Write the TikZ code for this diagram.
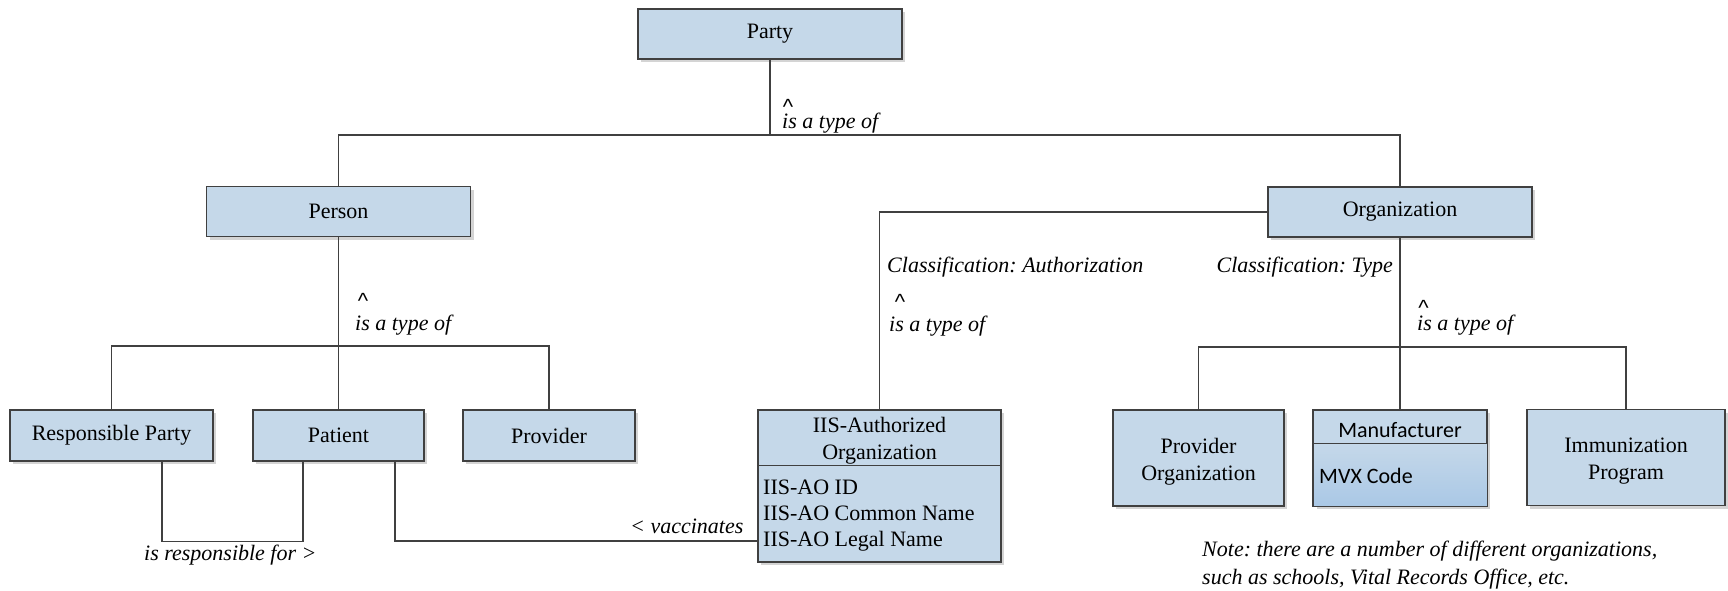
\documentclass[tikz,border=0pt]{standalone}
\usepackage{fontspec}
\setmainfont{Liberation Serif}
\newfontfamily\calfont{Carlito}
\newfontfamily\caretfont{Liberation Sans}
\usetikzlibrary{shadows}
\frenchspacing
\definecolor{boxfill}{RGB}{197,216,233}
\definecolor{mfrdark}{RGB}{170,200,230}
\definecolor{edge}{RGB}{64,64,64}
\definecolor{shadecol}{RGB}{212,212,212}
\tikzset{
  box/.style={draw=edge, line width=1.4pt, fill=boxfill, inner sep=0pt, align=center,
    font=\fontsize{22}{27}\selectfont,
    drop shadow={shadow xshift=3pt, shadow yshift=-3pt, fill=shadecol, opacity=1}},
  conn/.style={draw=edge, line width=1.4pt},
  lbl/.style={font=\fontsize{22}{25}\selectfont\itshape, inner sep=0pt},
  txt/.style={font=\fontsize{22}{27}\selectfont, inner sep=0pt},
  sans/.style={font=\calfont\fontsize{22}{25}\selectfont, inner sep=0pt},
  caret/.style={font=\caretfont\fontsize{22}{25}\selectfont, inner sep=0pt, anchor=base}
}
\begin{document}
\begin{tikzpicture}[x=1pt,y=-1pt]
\useasboundingbox (0,0) rectangle (1728,590);

% main boxes
\node[box, minimum width=264pt, minimum height=50pt] (party) at (770,34) {Party};
\node[box, minimum width=264pt, minimum height=50pt] (person) at (338.5,211.5) {Person};
\node[box, minimum width=264pt, minimum height=50pt] (org) at (1400,212) {Organization};

\node[box, minimum width=203pt, minimum height=51pt] (resp) at (111.5,435.5) {Responsible Party};
\node[box, minimum width=171pt, minimum height=51pt] (patient) at (338.5,435.5) {Patient};
\node[box, minimum width=172pt, minimum height=51pt] (prov) at (549,435.5) {Provider};

% IIS-AO class box
\node[box, minimum width=243pt, minimum height=152pt] (iis) at (879.5,486) {};
\draw[conn] ([yshift=-56pt]iis.north west) -- ([yshift=-56pt]iis.north east);
\node[txt, align=center] (iist) at (879.5,441) {IIS-Authorized\\Organization};
\node[txt, anchor=base west] (iis1) at (763,494) {IIS-AO ID};
\node[txt, anchor=base west] (iis2) at (763,520) {IIS-AO Common Name};
\node[txt, anchor=base west] (iis3) at (763,546) {IIS-AO Legal Name};

% organization children
\node[box, minimum width=171pt, minimum height=96pt] (porg) at (1198.5,458) {};
\node[txt, align=center] (porgt) at (1198.5,462) {Provider\\Organization};
\node[box, minimum width=173pt, minimum height=96pt] (mfr) at (1400,458) {};
\fill[top color=boxfill, bottom color=mfrdark]
  ([xshift=0.7pt,yshift=-34pt]mfr.north west) rectangle ([xshift=-0.7pt,yshift=0.7pt]mfr.south east);
\draw[conn] (mfr.north west) rectangle (mfr.south east);
\draw[conn] ([yshift=-34pt]mfr.north west) -- ([yshift=-34pt]mfr.north east);
\node[sans] (mfrt) at (1400,430) {Manufacturer};
\node[sans, anchor=west] (mvx) at (1319,476) {MVX Code};
\node[box, minimum width=198pt, minimum height=96pt] (imm) at (1626,457.5) {};
\node[txt, align=center] (immt) at (1626,461) {Immunization\\Program};

% connectors
\coordinate (j1) at (770,135);
\draw[conn] (party.south) -- (j1);
\draw[conn] (person.north) |- (j1) -| (org.north);
\coordinate (j2) at (338.5,346);
\draw[conn] (person.south) -- (patient.north);
\draw[conn] (resp.north) |- (j2) -| (prov.north);
\coordinate (j3) at (1400,347);
\draw[conn] (org.south) -- (mfr.north);
\draw[conn] (porg.north) |- (j3) -| (imm.north);
\draw[conn] (iis.north) |- (org.west);
\draw[conn] ([xshift=50.5pt]resp.south) -- ++(0,80) -| ([xshift=-35.5pt]patient.south);
\draw[conn] ([xshift=56.5pt]patient.south) |- ([yshift=-55pt]iis.west);

% labels
\node[caret] (c1) at (788,114) {\textasciicircum};
\node[lbl, anchor=base west] (t1) at (782,128) {is a type of};
\node[caret] (c2) at (363,308) {\textasciicircum};
\node[lbl, anchor=base west] (t2) at (355,330) {is a type of};
\node[lbl, anchor=base west] (cla) at (887,272) {Classification: Authorization};
\node[caret] (c3) at (900,309) {\textasciicircum};
\node[lbl, anchor=base west] (t3) at (889,331) {is a type of};
\node[caret] (c4) at (1423.5,315) {\textasciicircum};
\node[lbl, anchor=base west] (t4) at (1417,330) {is a type of};
\node[lbl, anchor=base east] (clt) at (1393,272) {Classification: Type};
\node[lbl, anchor=base west] (resl) at (144,560) {is responsible for >};
\node[lbl, anchor=base west] (vacl) at (630,533) {< vaccinates};
\node[lbl, anchor=base west] (n1) at (1202,556) {Note: there are a number of different organizations,};
\node[lbl, anchor=base west] (n2) at (1202,584) {such as schools, Vital Records Office, etc.};
\end{tikzpicture}
\end{document}
